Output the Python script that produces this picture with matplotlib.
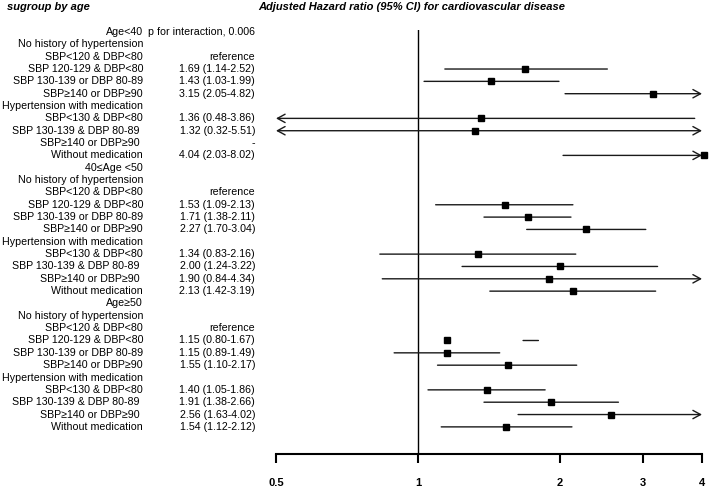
import numpy as np
import matplotlib
matplotlib.use("Agg")
import matplotlib.pyplot as plt
from matplotlib.transforms import blended_transform_factory
from matplotlib.ticker import NullLocator, FixedLocator, FixedFormatter

plt.rcParams['font.family'] = ['Liberation Sans', 'DejaVu Sans']

# row labels (left column)
labels = [
    "Age<40", "No history of hypertension", "SBP<120 & DBP<80", "SBP 120-129 & DBP<80",
    "SBP 130-139 or DBP 80-89", "SBP\u2265140 or DBP\u226590", "Hypertension with medication",
    "SBP<130 & DBP<80", "SBP 130-139 & DBP 80-89 ", "SBP\u2265140 or DBP\u226590 ", "Without medication",
    "40\u2264Age <50", "No history of hypertension", "SBP<120 & DBP<80", "SBP 120-129 & DBP<80",
    "SBP 130-139 or DBP 80-89", "SBP\u2265140 or DBP\u226590", "Hypertension with medication",
    "SBP<130 & DBP<80", "SBP 130-139 & DBP 80-89 ", "SBP\u2265140 or DBP\u226590 ", "Without medication",
    "Age\u226550", "No history of hypertension", "SBP<120 & DBP<80", "SBP 120-129 & DBP<80",
    "SBP 130-139 or DBP 80-89", "SBP\u2265140 or DBP\u226590", "Hypertension with medication",
    "SBP<130 & DBP<80", "SBP 130-139 & DBP 80-89 ", "SBP\u2265140 or DBP\u226590 ", "Without medication",
]

# text in the estimate column
est_text = [
    "p for interaction, 0.006", "", "reference", "1.69 (1.14-2.52)", "1.43 (1.03-1.99)",
    "3.15 (2.05-4.82)", "", "1.36 (0.48-3.86)", "1.32 (0.32-5.51)", "-", "4.04 (2.03-8.02)",
    "", "", "reference", "1.53 (1.09-2.13)", "1.71 (1.38-2.11)", "2.27 (1.70-3.04)", "",
    "1.34 (0.83-2.16)", "2.00 (1.24-3.22)", "1.90 (0.84-4.34)", "2.13 (1.42-3.19)",
    "", "", "reference", "1.15 (0.80-1.67)", "1.15 (0.89-1.49)", "1.55 (1.10-2.17)", "",
    "1.40 (1.05-1.86)", "1.91 (1.38-2.66)", "2.56 (1.63-4.02)", "1.54 (1.12-2.12)",
]

nan = np.nan
hr = [nan, nan, nan, 1.69, 1.43, 3.15, nan, 1.36, 1.32, nan, 4.04,
      nan, nan, nan, 1.53, 1.71, 2.27, nan, 1.34, 2.00, 1.90, 2.13,
      nan, nan, nan, 1.15, 1.15, 1.55, nan, 1.40, 1.91, 2.56, 1.54]
# CI lines as drawn in the picture
ci_lo = [nan, nan, nan, 1.14, 1.03, 2.05, nan, 0.48, 0.32, nan, 2.03,
         nan, nan, nan, 1.09, 1.38, 1.70, nan, 0.83, 1.24, 0.84, 1.42,
         nan, nan, nan, 1.67, 0.89, 1.10, nan, 1.05, 1.38, 1.63, 1.12]
ci_hi = [nan, nan, nan, 2.52, 1.99, 4.82, nan, 3.86, 5.51, nan, 8.02,
         nan, nan, nan, 2.13, 2.11, 3.04, nan, 2.16, 3.22, 4.34, 3.19,
         nan, nan, nan, 1.80, 1.49, 2.17, nan, 1.86, 2.66, 4.02, 2.12]

xticks = [0.5, 1, 2, 3, 4]
xtick_labels = ["0.5", "1", "2", "3", "4"]

W, H = 709, 488
fig = plt.figure(figsize=(W / 100, H / 100), dpi=100)

x0, x1 = 0.5, 4
px_left, px_right = 276, 702
row0_px, row_step = 32, 12.34
ax_bottom_px, ax_top_px = 454, 29.5
ymax = (ax_bottom_px - row0_px) / row_step
ymin = (ax_top_px - row0_px) / row_step

ax = fig.add_axes([px_left / W, 1 - ax_bottom_px / H, (px_right - px_left) / W,
                   (ax_bottom_px - ax_top_px) / H])
ax.set_xscale('log')
ax.set_xlim(x0, x1)
ax.set_ylim(ymax, ymin)

for s in ['top', 'right', 'left']:
    ax.spines[s].set_visible(False)
ax.spines['bottom'].set_linewidth(1.5)
ax.yaxis.set_visible(False)
ax.xaxis.set_major_locator(FixedLocator(xticks))
ax.xaxis.set_major_formatter(FixedFormatter(xtick_labels))
ax.xaxis.set_minor_locator(NullLocator())
ax.tick_params(axis='x', direction='out', length=6.5, width=1.5, pad=10.5,
               labelsize=8)
for t in ax.get_xticklabels():
    t.set_fontweight('bold')

ax.axvline(1, color='black', lw=1.0)

line_col = '#1a1a1a'
for i in range(len(labels)):
    if np.isnan(ci_lo[i]):
        continue
    lo, hi = ci_lo[i], ci_hi[i]
    left_arrow = lo < x0
    right_arrow = hi > x1
    a = max(lo, x0)
    b = min(hi, x1)
    if left_arrow and right_arrow:
        style = '<->'
    elif left_arrow:
        style = '<-'
    elif right_arrow:
        style = '->'
    else:
        style = '-'
    ax.annotate('', xy=(b, i), xytext=(a, i), annotation_clip=False,
                arrowprops=dict(arrowstyle=style + (', head_length=0.55, head_width=0.3' if style != '-' else ''),
                                lw=1.0, color=line_col, shrinkA=0, shrinkB=0,
                                mutation_scale=10))
    ax.plot([hr[i]], [i], marker='s', ms=5, color='black', clip_on=False, zorder=5)

# text columns
tr = blended_transform_factory(fig.transFigure, ax.transData)
fs = 7.7
for i in range(len(labels)):
    ax.text(143 / W, i, labels[i], transform=tr, ha='right', va='center', fontsize=fs)
    if est_text[i]:
        ax.text(255 / W, i, est_text[i], transform=tr, ha='right', va='center', fontsize=fs)

fig.text(7 / W, 1 - 7.5 / H, "sugroup by age", fontsize=8.0, fontweight='bold',
         fontstyle='italic', ha='left', va='center')
fig.text(258 / W, 1 - 7.5 / H, "Adjusted Hazard ratio (95% CI) for cardiovascular disease",
         fontsize=8.0, fontweight='bold', fontstyle='italic', ha='left', va='center')

fig.savefig("out.png", dpi=100)
